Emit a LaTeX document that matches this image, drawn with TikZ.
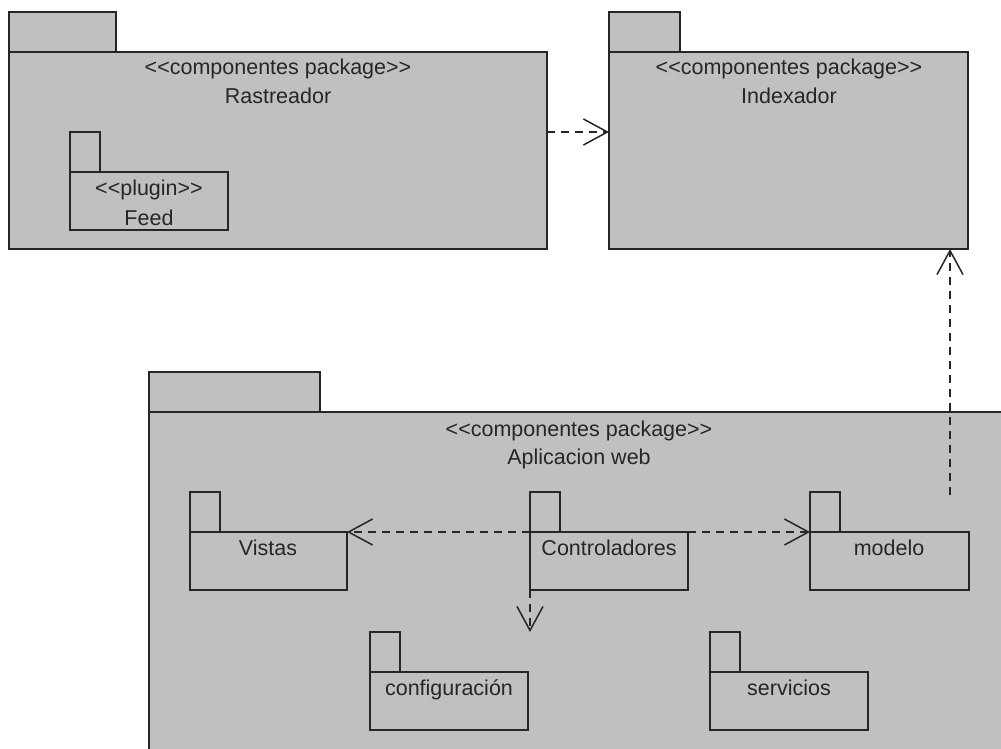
\documentclass[tikz,border=0pt]{standalone}
\usepackage{fontspec}
\setmainfont{Liberation Sans}
\usetikzlibrary{arrows.meta}
\definecolor{pkgfill}{RGB}{192,192,192}
\definecolor{ink}{RGB}{38,38,38}
% stereotype brackets kept as plain angle brackets
\newcommand\stereotype[1]{<\kern0pt<#1>\kern0pt>}
\begin{document}
\begin{tikzpicture}[x=1pt,y=-1pt,
  pkgbody/.style={draw=ink, fill=pkgfill, line width=1.6pt, inner sep=0pt, outer sep=0pt,
    rectangle, anchor=north west},
  pkgtab/.style={pkgbody, anchor=south west},
  ptext/.style={anchor=base, font=\fontsize{21.5}{25}\selectfont, text=ink, inner sep=0pt},
  dep/.style={draw=ink, line width=1.5pt, dash pattern=on 8pt off 6pt,
    -{Straight Barb[length=24pt,width=26pt,line width=1.5pt]}}
]
% page
\fill[white] (0,0) rectangle (1001,749);
\useasboundingbox (0,0) rectangle (1001,749);
\clip (0,0) rectangle (1001,749);

% Rastreador
\node[pkgtab, minimum width=107pt, minimum height=40pt] (rast-tab) at (9,52) {};
\node[pkgbody, minimum width=538pt, minimum height=197pt] (rast) at (9,52) {};
\node[ptext] (rast-st) at (278,75) {\stereotype{componentes package}};
\node[ptext] (rast-name) at (278,104) {Rastreador};

% Feed plugin
\node[pkgtab, minimum width=30pt, minimum height=40pt] (feed-tab) at (70,172) {};
\node[pkgbody, minimum width=158pt, minimum height=58pt] (feed) at (70,172) {};
\node[ptext] (feed-st) at (149,195) {\stereotype{plugin}};
\node[ptext] (feed-name) at (149,225) {Feed};

% Indexador
\node[pkgtab, minimum width=71pt, minimum height=40pt] (idx-tab) at (609,52) {};
\node[pkgbody, minimum width=359pt, minimum height=197pt] (idx) at (609,52) {};
\node[ptext] (idx-st) at (789,75) {\stereotype{componentes package}};
\node[ptext] (idx-name) at (789,104) {Indexador};

% Aplicacion web
\node[pkgtab, minimum width=171pt, minimum height=40pt] (app-tab) at (149,412) {};
\node[pkgbody, minimum width=880pt, minimum height=360pt] (app) at (149,412) {};
\node[ptext] (app-st) at (579,436) {\stereotype{componentes package}};
\node[ptext] (app-name) at (579,464) {Aplicacion web};

% inner packages
\node[pkgtab, minimum width=30pt, minimum height=40pt] (vis-tab) at (190,532) {};
\node[pkgbody, minimum width=157pt, minimum height=58pt] (vis) at (190,532) {};
\node[ptext] (vis-name) at (268,555) {Vistas};

\node[pkgtab, minimum width=30pt, minimum height=40pt] (ctl-tab) at (530,532) {};
\node[pkgbody, minimum width=158pt, minimum height=58pt] (ctl) at (530,532) {};
\node[ptext] (ctl-name) at (609,555) {Controladores};

\node[pkgtab, minimum width=30pt, minimum height=40pt] (mod-tab) at (810,532) {};
\node[pkgbody, minimum width=159pt, minimum height=58pt] (mod) at (810,532) {};
\node[ptext] (mod-name) at (889,555) {modelo};

\node[pkgtab, minimum width=30pt, minimum height=40pt] (cfg-tab) at (370,672) {};
\node[pkgbody, minimum width=158pt, minimum height=58pt] (cfg) at (370,672) {};
\node[ptext] (cfg-name) at (449,695) {configuración};

\node[pkgtab, minimum width=30pt, minimum height=40pt] (srv-tab) at (710,672) {};
\node[pkgbody, minimum width=158pt, minimum height=58pt] (srv) at (710,672) {};
\node[ptext] (srv-name) at (789,695) {servicios};

% dependencies
\coordinate (dep-row) at (0,132);
\coordinate (mod-dep) at (950,495);
\draw[dep] (rast.east |- dep-row) -- (idx.west |- dep-row);
\draw[dep] (mod-dep) -- (idx.south -| mod-dep);
\draw[dep] (ctl.north west) -- (vis.north east);
\draw[dep] (ctl.north east) -- (mod.north west);
\draw[dep] (ctl.south west) -- (ctl.south west |- cfg-tab.north);
\end{tikzpicture}
\end{document}
